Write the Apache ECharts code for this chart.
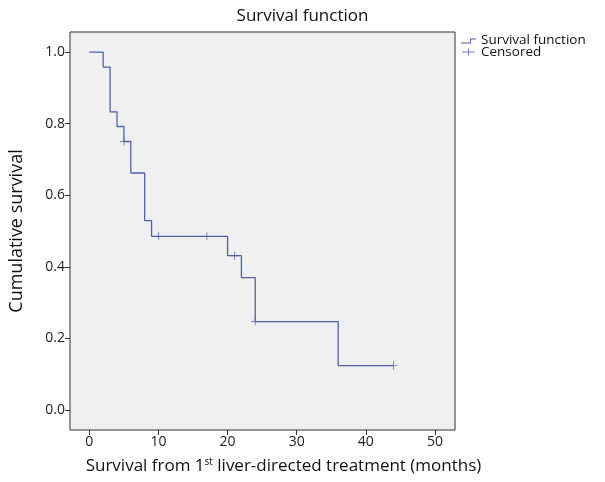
<!DOCTYPE html>
<html><head><meta charset="utf-8">
<script src="https://cdn.jsdelivr.net/npm/echarts@6/dist/echarts.min.js"></script>
<style>html,body{margin:0;padding:0;background:#fff}#c{width:605px;height:482px}</style>
</head><body><div id="c"></div>
<script>
// Kaplan-Meier step points (months, cumulative survival)
const stepTimes = [0, 2, 3, 4, 5, 6, 8, 9, 20, 22, 24, 36, 44];
const stepSurvival = [1.0, 0.958, 0.833, 0.792, 0.75, 0.662, 0.529, 0.485, 0.431, 0.370, 0.247, 0.124, 0.124];
// Censored observations
const censorTimes = [5, 10, 17, 21, 24, 44];
const censorSurvival = [0.75, 0.485, 0.485, 0.431, 0.247, 0.124];
// Tick labels
const xTicks = [0, 10, 20, 30, 40, 50];
const yTicks = [0.0, 0.2, 0.4, 0.6, 0.8, 1.0];

const lineColor = '#4e62b0';
const font = 'Open Sans';
const chart = echarts.init(document.getElementById('c'), null, {renderer: 'canvas'});
chart.setOption({
  backgroundColor: '#ffffff',
  animation: false,
  title: {
    text: 'Survival function', left: 'center', top: 3,
    textStyle: {fontFamily: font, fontSize: 17, fontWeight: 'normal', color: '#111'}
  },
  legend: {
    orient: 'vertical', left: 456, top: 28, itemGap: -2,
    itemWidth: 15, itemHeight: 7,
    textStyle: {fontFamily: font, fontSize: 13.5, lineHeight: 12, color: '#111'},
    data: [
      {name: 'Survival function', icon: 'path://M0,0h0.01v0.01h-0.01z M0,6h9v-4h6v1h-5v4h-10z'},
      {name: 'Censored', icon: 'path://M7,0h1v7h-1z M1,3h13v1h-13z'}
    ]
  },
  grid: {
    left: 67, right: 150, top: 32, bottom: 52,
    show: true, backgroundColor: '#f0f0f0', borderColor: '#333', borderWidth: 1
  },
  xAxis: {
    type: 'value', min: -2.8, max: 52.9,
    axisLine: {show: false, onZero: false},
    axisTick: {show: true, length: 5, lineStyle: {color: '#333'}, customValues: xTicks},
    axisLabel: {customValues: xTicks, fontFamily: font, fontSize: 14, color: '#222', margin: 5},
    splitLine: {show: false},
    name: 'Survival from 1{sup|st} liver-directed treatment (months)',
    nameLocation: 'middle', nameGap: 27,
    nameTextStyle: {
      fontFamily: font, fontSize: 17, color: '#111', padding: [0, 0, 0, 42],
      rich: {sup: {fontFamily: font, fontSize: 10, color: '#111', verticalAlign: 'top', padding: [0, 0, 8, 0]}}
    }
  },
  yAxis: {
    type: 'value', min: -0.056, max: 1.056,
    axisLine: {show: false, onZero: false},
    axisTick: {show: true, length: 5, lineStyle: {color: '#333'}, customValues: yTicks},
    axisLabel: {customValues: yTicks, fontFamily: font, fontSize: 14, color: '#222', margin: 5,
      formatter: v => v.toFixed(1)},
    splitLine: {show: false},
    name: 'Cumulative survival', nameLocation: 'middle', nameGap: 44,
    nameTextStyle: {fontFamily: font, fontSize: 18, color: '#111'}
  },
  series: [
    {
      name: 'Survival function', type: 'line', step: 'end', symbol: 'none',
      color: lineColor, lineStyle: {color: lineColor, width: 1.3},
      data: stepTimes.map((t, i) => [t, stepSurvival[i]])
    },
    {
      name: 'Censored', type: 'scatter', color: lineColor,
      symbol: 'path://M4,0h1v9h-1z M0,4h9v1h-9z', symbolSize: [8, 8],
      itemStyle: {color: lineColor},
      data: censorTimes.map((t, i) => [t, censorSurvival[i]])
    }
  ]
});
</script></body></html>
